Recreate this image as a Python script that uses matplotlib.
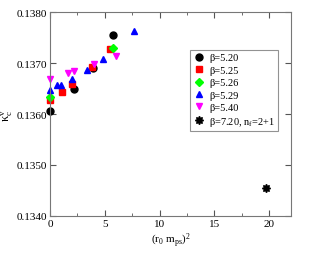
import matplotlib
matplotlib.use("Agg")
import matplotlib.pyplot as plt
from matplotlib.ticker import MultipleLocator

plt.rcParams['font.family'] = ['Liberation Serif', 'DejaVu Serif']
plt.rcParams['mathtext.fontset'] = 'custom'
plt.rcParams['mathtext.rm'] = 'Liberation Serif'
plt.rcParams['mathtext.it'] = 'Liberation Serif'

# data
x_520 = [0.03, 2.15, 3.9, 5.72]
y_520 = [0.13606, 0.13650, 0.13690, 0.13756]
x_525 = [0.03, 1.1, 2.0, 3.84, 5.48]
y_525 = [0.13628, 0.13644, 0.13659, 0.13692, 0.13728]
x_526 = [0.03, 5.75]
y_526 = [0.13634, 0.13730]
x_529 = [0.03, 0.64, 1.0, 1.97, 3.34, 4.87, 7.7]
y_529 = [0.13647, 0.13657, 0.13657, 0.13669, 0.13686, 0.13709, 0.13764]
x_540 = [0.03, 1.67, 2.22, 3.98, 6.03]
y_540 = [0.13669, 0.13681, 0.13684, 0.13698, 0.13715]
x_720 = [19.7]
y_720 = [0.13454]

labels = ['β=5.20', 'β=5.25', 'β=5.26', 'β=5.29', 'β=5.40',
          r'β=7.20, n$_{\mathrm{f}}$=2+1']

fig = plt.figure(figsize=(3.3, 2.55), dpi=100)
ax = fig.add_axes([0.1515, 0.150, 0.7305, 0.798])

ax.plot(x_520, y_520, 'o', color='black', ms=5, label=labels[0], clip_on=False)
ax.plot(x_525, y_525, 's', color='red', ms=4.5, label=labels[1], clip_on=False)
ax.plot(x_526, y_526, 'D', color='#00ff00', ms=4, label=labels[2], clip_on=False)
ax.plot(x_529, y_529, '^', color='blue', ms=5, label=labels[3], clip_on=False)
ax.plot(x_540, y_540, 'v', color='magenta', ms=5, label=labels[4], clip_on=False)
ax.plot(x_720, y_720, marker=(8, 1, 0), ls='none', color='black', ms=6,
        label=labels[5], clip_on=False)

ax.set_xlim(0, 22)
ax.set_ylim(0.1340, 0.1380)
ax.xaxis.set_major_locator(MultipleLocator(5))
ax.xaxis.set_minor_locator(MultipleLocator(2.5))
ax.yaxis.set_major_locator(MultipleLocator(0.001))
ax.yaxis.set_major_formatter(plt.FormatStrFormatter('%.4f'))
ax.tick_params(which='both', direction='in', top=True, right=True,
               labelsize=8, color='#555555', pad=2)
ax.tick_params(which='major', length=4)
ax.tick_params(which='minor', length=2)
for s in ax.spines.values():
    s.set_color('#777777')

ax.set_xlabel(r'(r$_0$ m$_{\mathrm{ps}}$)$^2$', fontsize=8, labelpad=2)
ax.set_ylabel(r'$\kappa_c^v$', fontsize=9, labelpad=1)

leg = ax.legend(loc='upper right', bbox_to_anchor=(0.946, 0.815), fontsize=7.5,
                frameon=True, fancybox=False, edgecolor='#777777',
                handletextpad=0.5, borderpad=0.3, labelspacing=0.3,
                handlelength=1.0, borderaxespad=0, numpoints=1)
leg.get_frame().set_linewidth(0.8)

fig.savefig('out.png', dpi=100)
